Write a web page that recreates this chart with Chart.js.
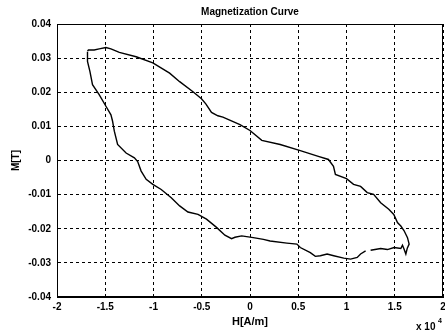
<!DOCTYPE html>
<html>
<head>
<meta charset="utf-8">
<script src="https://cdn.jsdelivr.net/npm/chart.js@4.4.0/dist/chart.umd.min.js"></script>
<style>
  html, body { margin: 0; padding: 0; background: #fff; }
  canvas { display: block; }
</style>
</head>
<body>
<canvas id="magChart" width="445" height="333"></canvas>
<script>
// H in units of 1e4 A/m, M in T — traced round the loop (upper branch, then lower branch back)
const H_VALUES = [
  -1.684, -1.674, -1.615, -1.563, -1.493, -1.441, -1.354, -1.180, -1.007, -0.833,
  -0.729, -0.594, -0.503, -0.458, -0.399, -0.333, -0.281, -0.104, 0.000, 0.122,
  0.313, 0.521, 0.708, 0.813, 0.865, 0.885, 1.000, 1.073, 1.146, 1.215,
  1.281, 1.354, 1.438, 1.490, 1.528, 1.563, 1.597, 1.632, 1.649, 1.630,
  1.615,
  1.597, 1.580, 1.563, 1.493, 1.424, 1.354, 1.250, 1.225, 1.198, 1.146,
  1.111, 1.042, 0.972, 0.868, 0.799, 0.729, 0.677, 0.625, 0.521, 0.486,
  0.382, 0.208, 0.139, 0.034, -0.086, -0.156, -0.191, -0.260, -0.347, -0.451,
  -0.539, -0.643, -0.729, -0.816, -0.920, -1.007, -1.076, -1.128, -1.164, -1.198,
  -1.284, -1.372, -1.406, -1.424, -1.441, -1.493, -1.563, -1.632, -1.659, -1.684,
  -1.684
];
const M_VALUES = [
  0.0321, 0.0324, 0.0324, 0.0327, 0.0331, 0.0327, 0.0317, 0.0304, 0.0286, 0.0256,
  0.0231, 0.0202, 0.0181, 0.0166, 0.0141, 0.0131, 0.0127, 0.0105, 0.0088, 0.0059,
  0.0047, 0.0029, 0.0012, 0.0003, -0.0017, -0.0041, -0.0053, -0.0070, -0.0076, -0.0094,
  -0.0099, -0.0124, -0.0143, -0.0158, -0.0182, -0.0192, -0.0206, -0.0226, -0.0245, -0.0257,
  -0.0274,
  -0.0260, -0.0248, -0.0258, -0.0255, -0.0261, -0.0258, -0.0263, null, -0.0265, -0.0274,
  -0.0284, -0.0289, -0.0286, -0.0279, -0.0274, -0.0279, -0.0281, -0.0270, -0.0255, -0.0245,
  -0.0242, -0.0236, -0.0231, -0.0226, -0.0221, -0.0225, -0.0229, -0.0219, -0.0196, -0.0172,
  -0.0158, -0.0151, -0.0133, -0.0109, -0.0085, -0.0070, -0.0055, -0.0031, -0.0003, 0.0008,
  0.0022, 0.0047, 0.0086, 0.0115, 0.0134, 0.0159, 0.0193, 0.0222, 0.0261, 0.0290,
  0.0319
];
const X_TICKS = [-2, -1.5, -1, -0.5, 0, 0.5, 1, 1.5, 2];
const Y_TICKS = [-0.04, -0.03, -0.02, -0.01, 0, 0.01, 0.02, 0.03, 0.04];

const FONT = 'Liberation Sans, Arial, sans-serif';

// box round the plot + the "x 10^4" exponent label
const matlabFrame = {
  id: 'matlabFrame',
  afterDatasetsDraw(chart) {
    const { ctx, chartArea: a } = chart;
    ctx.save();
    ctx.strokeStyle = '#000';
    ctx.lineWidth = 1;
    ctx.setLineDash([]);
    ctx.strokeRect(a.left + 0.5, a.top + 0.5, a.right - a.left - 1, a.bottom - a.top - 1);
    ctx.fillStyle = '#000';
    ctx.textBaseline = 'alphabetic';
    ctx.font = 'bold 10px ' + FONT;
    ctx.fillText('x 10', 416, 330);
    ctx.font = 'bold 7px ' + FONT;
    ctx.fillText('4', 438, 323);
    ctx.restore();
  }
};

new Chart(document.getElementById('magChart'), {
  type: 'scatter',
  data: {
    datasets: [{
      data: H_VALUES.map((h, i) => ({ x: h, y: M_VALUES[i] })),
      showLine: true,
      spanGaps: false,
      borderColor: '#000',
      borderWidth: 1.4,
      pointRadius: 0,
      tension: 0,
    }],
  },
  options: {
    responsive: false,
    animation: false,
    devicePixelRatio: 1,
    layout: { padding: { left: 0, right: 2, top: 0, bottom: 0 } },
    plugins: {
      legend: { display: false },
      tooltip: { enabled: false },
      title: {
        display: true,
        text: 'Magnetization Curve',
        fullSize: false,
        color: '#000',
        font: { family: FONT, size: 10, weight: 'bold', lineHeight: 1.2 },
        padding: { top: 6, bottom: 6 },
      },
    },
    scales: {
      x: {
        type: 'linear',
        min: -2,
        max: 2,
        afterBuildTicks: s => { s.ticks = X_TICKS.map(v => ({ value: v })); },
        afterFit: s => { s.height = 36; s.paddingLeft = 0; s.paddingRight = 0; },
        grid:   { color: '#000', lineWidth: 1, drawTicks: false },
        border: { color: '#000', width: 1, dash: [3, 3] },
        ticks:  { color: '#000', padding: 4, maxRotation: 0, font: { family: FONT, size: 10, weight: 'bold' },
                  callback: v => String(v) },
        title:  { display: true, text: 'H[A/m]', color: '#000',
                  font: { family: FONT, size: 11, weight: 'bold', lineHeight: 1.2 }, padding: { top: 0, bottom: 4 } },
      },
      y: {
        type: 'linear',
        min: -0.04,
        max: 0.04,
        afterBuildTicks: s => { s.ticks = Y_TICKS.map(v => ({ value: v })); },
        afterFit: s => { s.width = 57; s.paddingTop = 0; s.paddingBottom = 0; },
        grid:   { color: '#000', lineWidth: 1, drawTicks: false },
        border: { color: '#000', width: 1, dash: [3, 3] },
        ticks:  { color: '#000', padding: 6, font: { family: FONT, size: 10, weight: 'bold' },
                  callback: v => (Math.abs(v) < 1e-9 ? '0' : v.toFixed(2)) },
        title:  { display: true, text: 'M[T]', color: '#000',
                  font: { family: FONT, size: 10, weight: 'bold', lineHeight: 1.2 }, padding: { top: 10, bottom: 0 } },
      },
    },
  },
  plugins: [matlabFrame],
});
</script>
</body>
</html>
